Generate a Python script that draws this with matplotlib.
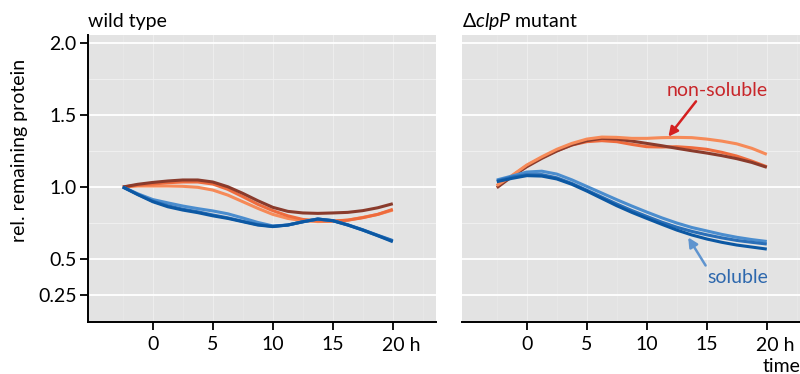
import matplotlib
matplotlib.use('Agg')
import matplotlib.pyplot as plt
import numpy as np

plt.rcParams['font.family'] = ['Lato', 'DejaVu Sans']
plt.rcParams['mathtext.fontset'] = 'custom'
plt.rcParams['mathtext.rm'] = 'Lato'
plt.rcParams['mathtext.it'] = 'Lato:italic'

# time points (h)
t = [-2.5, -1.25, 0, 1.25, 2.5, 3.75, 5, 6.25, 7.5, 8.75, 10, 11.25, 12.5, 13.75, 15, 16.25, 17.5, 18.75, 20]

# wild type
wt_brown = [1.0, 1.019, 1.032, 1.042, 1.049, 1.049, 1.035, 1.002, 0.956, 0.905, 0.859, 0.831, 0.82, 0.817, 0.82, 0.824, 0.836, 0.856, 0.884]
wt_orange = [1.0, 1.014, 1.021, 1.03, 1.035, 1.035, 1.021, 0.984, 0.933, 0.88, 0.836, 0.8, 0.775, 0.766, 0.764, 0.77, 0.787, 0.81, 0.845]
wt_lorange = [1.0, 1.007, 1.007, 1.007, 1.005, 0.998, 0.979, 0.944, 0.898, 0.852, 0.81, 0.782, 0.766, 0.76, 0.762, 0.77, 0.789, 0.81, 0.84]
wt_lblue = [1.0, 0.953, 0.913, 0.89, 0.868, 0.85, 0.834, 0.814, 0.785, 0.754, 0.73, 0.736, 0.759, 0.778, 0.766, 0.736, 0.701, 0.662, 0.625]
wt_mblue = [1.0, 0.949, 0.902, 0.87, 0.846, 0.828, 0.806, 0.786, 0.762, 0.739, 0.727, 0.736, 0.758, 0.777, 0.767, 0.738, 0.703, 0.665, 0.628]
wt_dblue = [1.0, 0.947, 0.898, 0.863, 0.84, 0.822, 0.8, 0.782, 0.759, 0.736, 0.725, 0.736, 0.759, 0.778, 0.766, 0.736, 0.701, 0.662, 0.62]

# clpP mutant
mu_lorange = [1.01, 1.079, 1.153, 1.21, 1.262, 1.303, 1.333, 1.347, 1.345, 1.338, 1.338, 1.343, 1.345, 1.343, 1.333, 1.319, 1.30, 1.269, 1.227]
mu_brown = [0.995, 1.072, 1.141, 1.199, 1.25, 1.292, 1.322, 1.338, 1.333, 1.319, 1.303, 1.287, 1.269, 1.252, 1.236, 1.218, 1.197, 1.171, 1.137]
mu_orange = [1.01, 1.076, 1.148, 1.204, 1.252, 1.292, 1.315, 1.322, 1.315, 1.296, 1.28, 1.278, 1.28, 1.273, 1.262, 1.241, 1.215, 1.18, 1.141]
mu_lblue = [1.049, 1.076, 1.104, 1.11, 1.09, 1.05, 1.004, 0.958, 0.912, 0.868, 0.826, 0.786, 0.75, 0.719, 0.695, 0.671, 0.651, 0.635, 0.622]
mu_mblue = [1.042, 1.069, 1.086, 1.086, 1.064, 1.025, 0.978, 0.93, 0.882, 0.837, 0.796, 0.756, 0.721, 0.692, 0.668, 0.647, 0.629, 0.616, 0.604]
mu_dblue = [1.037, 1.06, 1.079, 1.076, 1.056, 1.019, 0.972, 0.921, 0.87, 0.824, 0.782, 0.741, 0.701, 0.667, 0.639, 0.616, 0.597, 0.583, 0.569]

yticks = [0.25, 0.5, 1.0, 1.5, 2.0]
ylabels = ['0.25', '0.5', '1.0', '1.5', '2.0']
xticks = [0, 5, 10, 15, 20]
xlabels = ['0', '5', '10', '15', '']

c_brown = '#8a3b2c'
c_orange = '#ee6b3d'
c_lorange = '#f68a58'
c_dblue = '#0c58a3'
c_mblue = '#2a6fb8'
c_lblue = '#4b8dce'

fig = plt.figure(figsize=(8, 3.74), dpi=100)
ax1 = fig.add_axes([88/800, 52/374, 348/800, 287/374])
ax2 = fig.add_axes([462/800, 52/374, 348/800, 287/374])


def style(ax, show_y):
    ax.set_facecolor('#e3e3e3')
    ax.set_xlim(-5.4, 23.6)
    ax.set_ylim(0.0625, 2.056)
    ax.set_xticks(xticks)
    ax.set_xticklabels(xlabels, fontsize=14)
    ax.set_xticks([-2.5, 2.5, 7.5, 12.5, 17.5, 22.5], minor=True)
    ax.set_yticks(yticks)
    ax.set_yticks([0.75, 1.25, 1.75], minor=True)
    ax.grid(True, which='major', axis='y', color='white', lw=1.3)
    ax.grid(True, which='minor', axis='y', color='#f0f0f0', lw=0.7)
    ax.grid(True, which='major', axis='x', color='#ededed', lw=0.8)
    ax.grid(True, which='minor', axis='x', color='#e8e8e8', lw=0.6)
    ax.set_axisbelow(True)
    for s in ['top', 'right']:
        ax.spines[s].set_visible(False)
    ax.spines['bottom'].set_linewidth(1.4)
    ax.tick_params(axis='x', which='major', direction='out', length=6, width=1.3, pad=4)
    ax.tick_params(which='minor', length=0)
    if show_y:
        ax.spines['left'].set_linewidth(1.4)
        ax.set_yticklabels(ylabels, fontsize=14)
        ax.tick_params(axis='y', which='major', direction='out', length=6, width=1.3, pad=2)
    else:
        ax.spines['left'].set_visible(False)
        ax.tick_params(axis='y', which='major', length=0, labelleft=False)
    ax.annotate('20 h', xy=(20, 0), xycoords=('data', 'axes fraction'),
                xytext=(-8, -10.5), textcoords='offset points',
                ha='left', va='top', fontsize=14)


style(ax1, True)
style(ax2, False)

kw = dict(lw=2.2, solid_capstyle='butt', solid_joinstyle='round')
ax1.plot(t, wt_lorange, color=c_lorange, **kw)
ax1.plot(t, wt_orange, color=c_orange, **kw)
ax1.plot(t, wt_brown, color=c_brown, **kw)
ax1.plot(t, wt_lblue, color=c_lblue, **kw)
ax1.plot(t, wt_mblue, color=c_mblue, **kw)
ax1.plot(t, wt_dblue, color=c_dblue, **kw)

ax2.plot(t, mu_orange, color=c_orange, **kw)
ax2.plot(t, mu_brown, color=c_brown, **kw)
ax2.plot(t, mu_lorange, color=c_lorange, **kw)
ax2.plot(t, mu_lblue, color=c_lblue, **kw)
ax2.plot(t, mu_mblue, color=c_mblue, **kw)
ax2.plot(t, mu_dblue, color=c_dblue, **kw)

# annotations
ax2.text(15.9, 1.67, 'non-soluble', color='#c8262a', fontsize=14, ha='center', va='center')
ax2.annotate('', xy=(11.8, 1.35), xytext=(14.1, 1.595),
             arrowprops=dict(arrowstyle='-|>', color='#d42020', lw=1.8, mutation_scale=14, shrinkA=0, shrinkB=0))
ax2.text(17.6, 0.37, 'soluble', color='#2e68ad', fontsize=14, ha='center', va='center')
ax2.annotate('', xy=(13.45, 0.65), xytext=(14.9, 0.455),
             arrowprops=dict(arrowstyle='-|>', color='#5f94cf', lw=1.8, mutation_scale=14, shrinkA=0, shrinkB=0))

fig.text(88/800, 1 - 22/374, 'wild type', fontsize=14, ha='left', va='center')
fig.text(462/800, 1 - 22/374, '\u0394$\\mathit{clpP}$ mutant', fontsize=14, ha='left', va='center')
fig.text(20/800, 1 - 150/374, 'rel. remaining protein', fontsize=14, rotation=90, ha='center', va='center')
fig.text(763/800, 1 - 366/374, 'time', fontsize=14, ha='left', va='center')

fig.savefig('out.png', dpi=100)
